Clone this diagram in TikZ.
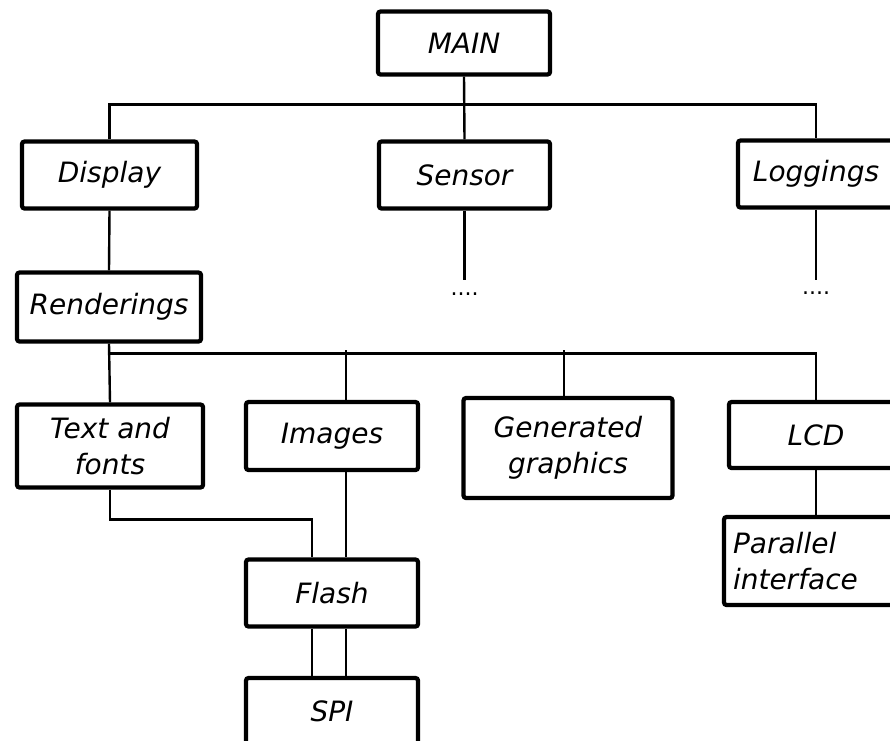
\documentclass[tikz,border=0pt]{standalone}
\usepackage{fontspec}
\newfontfamily\handfont{DejaVu Sans}
\usetikzlibrary{calc}
\begin{document}
\begin{tikzpicture}[x=1pt,y=-1pt,
  box/.style={draw, line width=4.2pt, rounded corners=2.5pt, inner sep=0pt,
    font=\handfont\itshape\fontsize{28}{36}\selectfont, align=center},
  link/.style={line width=2.4pt},
  dots/.style={font=\handfont\fontsize{22}{22}\selectfont, inner sep=0pt}]
\useasboundingbox (0,0) rectangle (890,740);
\begin{scope}
\clip (0,0) rectangle (890,740);
\node[box, minimum width=172, minimum height=63] (main) at (464,43) {MAIN};
\node[box, minimum width=175, minimum height=67] (display) at (109.5,175) {Display};
\node[box, minimum width=171, minimum height=67] (sensor) at (464.5,175) {Sensor};
\node[box, minimum width=156, minimum height=67] (loggings) at (816,174) {Loggings};
\node[box, minimum width=184, minimum height=69] (render) at (109,307) {Renderings};
\node[box, minimum width=186, minimum height=83] (text) at (110,446) {Text and\\fonts};
\node[box, minimum width=172, minimum height=68] (images) at (332,436) {Images};
\node[box, minimum width=209, minimum height=100] (gen) at (568,448) {Generated\\graphics};
\node[box, minimum width=174, minimum height=66] (lcd) at (816,435) {LCD};
\node[box, minimum width=184, minimum height=88, align=left, text width=166] (par) at (816,561) {Parallel\\interface};
\node[box, minimum width=172, minimum height=67] (flash) at (332,593) {Flash};
\node[box, minimum width=172, minimum height=66] (spi) at (332,711) {SPI};

% top bus
\draw[link] (main.south) -- (sensor.north);
\draw[link] (display.north) -- ++(0,-35) -| (loggings.north);
% dotted continuations
\draw[link] (sensor.south) -- ++(0,69) coordinate (sd);
\node[dots, anchor=base] (sdots) at ($(sd)+(0,16)$) {....};
\draw[link] (loggings.south) -- ++(0,70) coordinate (ld);
\node[dots, anchor=base] (ldots) at ($(ld)+(0,15)$) {....};
% display - renderings
\draw[link] (display.south) -- (render.north);
% lower bus
\draw[link] (render.south) -- (text.north);
\draw[link] (render.south) -- ++(0,10) -| (lcd.north);
\draw[link] ([xshift=14]images.north) -- ++(0,-50);
\draw[link] ([xshift=-4]gen.north) -- ++(0,-46);
% lcd - parallel
\draw[link] (lcd.south) -- (par.north);
% to flash
\draw[link] (text.south) -- ++(0,30) -| ([xshift=-20]flash.north);
\draw[link] ([xshift=14]images.south) -- ([xshift=14]flash.north);
% flash - spi
\draw[link] ([xshift=-20]flash.south) -- ([xshift=-20]spi.north);
\draw[link] ([xshift=14]flash.south) -- ([xshift=14]spi.north);
\end{scope}
\end{tikzpicture}
\end{document}
